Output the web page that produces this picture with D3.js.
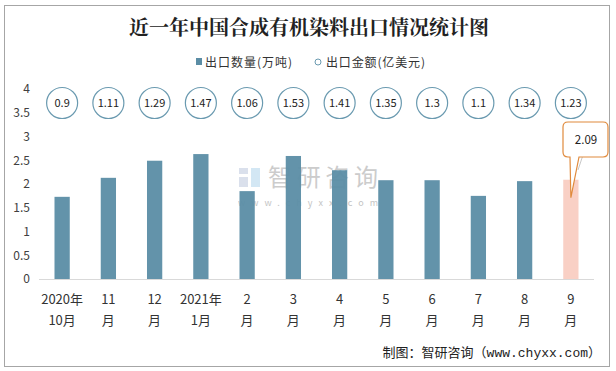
<!DOCTYPE html>
<html><head><meta charset="utf-8">
<script src="https://cdn.jsdelivr.net/npm/d3@7"></script>
<style>body{margin:0;background:#fff;}svg{display:block;}</style>
</head><body>
<svg id="c" width="616" height="371"></svg>
<script>
const categories = [["2020年","10月"],["11","月"],["12","月"],["2021年","1月"],["2","月"],["3","月"],["4","月"],["5","月"],["6","月"],["7","月"],["8","月"],["9","月"]];
const quantity = [1.73, 2.13, 2.49, 2.63, 1.85, 2.59, 2.29, 2.08, 2.08, 1.75, 2.06, 2.09];
const amount = [0.9, 1.11, 1.29, 1.47, 1.06, 1.53, 1.41, 1.35, 1.3, 1.1, 1.34, 1.23];
const yTicks = [0, 0.5, 1, 1.5, 2, 2.5, 3, 3.5, 4];
const title = "近一年中国合成有机染料出口情况统计图";
const legendLabels = ["出口数量(万吨)", "出口金额(亿美元)"];
const source = "制图：智研咨询（www.chyxx.com）";

const svg = d3.select("#c");
const font = "'Noto Sans CJK SC', 'Liberation Sans', sans-serif";
const barColor = "#5b8da5", hiColor = "#f9cdc2", circColor = "#6a9ab0";

svg.append("rect").attr("x",4.5).attr("y",5.5).attr("width",605).attr("height",361)
  .attr("fill","#fff").attr("stroke","#a6a6a6").attr("stroke-width",1);

svg.append("text").attr("x",309).attr("y",35).attr("text-anchor","middle")
  .attr("font-family","'Noto Serif CJK SC','Noto Sans CJK SC',serif").attr("font-weight","bold")
  .attr("font-size",20).attr("fill","#222").text(title);

const x = d3.scaleBand().domain(d3.range(categories.length)).range([39, 594]).paddingInner(0.67).paddingOuter(0.335);
const y = d3.scaleLinear().domain([0, 4]).range([279, 89]);

// legend
const lg = svg.append("g").attr("font-family",font).attr("font-size",12).attr("fill","#333");
lg.append("rect").attr("x",196).attr("y",58).attr("width",6).attr("height",7).attr("fill",barColor);
lg.append("text").attr("x",205).attr("y",66.5).attr("textLength",87).text(legendLabels[0]);
lg.append("circle").attr("cx",318).attr("cy",62).attr("r",3).attr("fill","none").attr("stroke",circColor);
lg.append("text").attr("x",326).attr("y",66.5).attr("textLength",99).text(legendLabels[1]);

// y axis
const ya = svg.append("g").attr("transform","translate(30,0)")
  .call(d3.axisLeft(y).tickValues(yTicks).tickSize(0).tickPadding(0).tickFormat(d3.format("~g")));
ya.select(".domain").remove();
ya.selectAll("text").attr("font-family",font).attr("font-size",12).attr("fill","#404040");

// watermark
const wm = svg.append("g").attr("opacity",0.5);
wm.append("rect").attr("x",239).attr("y",168).attr("width",9).attr("height",6).attr("fill","#b7c3da");
wm.append("rect").attr("x",239).attr("y",177).attr("width",9).attr("height",10).attr("fill","#b7c3da");
wm.append("rect").attr("x",251).attr("y",168).attr("width",9).attr("height",19).attr("fill","#a9d1ea");
wm.append("text").attr("x",268).attr("y",186).attr("font-family",font).attr("font-size",24).attr("fill","#9a9a9a").attr("textLength",110).text("智研咨询");
wm.append("text").attr("x",238).attr("y",206).attr("font-family",font).attr("font-size",9).attr("fill","#8a8a8a").attr("textLength",140).text("www.chyxx.com");

// bars
svg.append("g").selectAll("rect").data(quantity).join("rect")
  .attr("x",(d,i)=>x(i)).attr("width",x.bandwidth())
  .attr("y",d=>y(d)).attr("height",d=>y(0)-y(d))
  .attr("fill",(d,i)=> i===quantity.length-1 ? hiColor : barColor)
  .attr("fill-opacity",0.95);

// baseline
svg.append("line").attr("x1",39).attr("x2",594).attr("y1",279.5).attr("y2",279.5).attr("stroke","#d9d9d9");

// x labels
const xl = svg.append("g").attr("font-family",font).attr("font-size",13).attr("fill","#333").attr("text-anchor","middle");
categories.forEach((c,i)=>{
  const cx = x(i)+x.bandwidth()/2;
  xl.append("text").attr("x",cx).attr("y",304).text(c[0]);
  xl.append("text").attr("x",cx).attr("y",325).text(c[1]);
});

// amount circles
const cg = svg.append("g");
amount.forEach((v,i)=>{
  const cx = x(i)+x.bandwidth()/2;
  cg.append("circle").attr("cx",cx).attr("cy",103).attr("r",15.5).attr("fill","#fff").attr("stroke",circColor).attr("stroke-width",1.2);
  cg.append("text").attr("x",cx).attr("y",107).attr("text-anchor","middle").attr("font-family",font).attr("font-size",11).attr("fill","#222").text(v);
});

// callout for last bar
const li = quantity.length-1;
const tipX = x(li)+x.bandwidth()/2, tipY = y(quantity[li]) + 18;
const bx0 = 563, bx1 = 608, by0 = 122, by1 = 157, r = 5;
const p = d3.path();
p.moveTo(bx0+r,by0); p.lineTo(bx1-r,by0); p.quadraticCurveTo(bx1,by0,bx1,by0+r);
p.lineTo(bx1,by1-r); p.quadraticCurveTo(bx1,by1,bx1-r,by1);
p.lineTo(579,by1); p.lineTo(tipX,tipY); p.lineTo(570,by1);
p.lineTo(bx0+r,by1); p.quadraticCurveTo(bx0,by1,bx0,by1-r);
p.lineTo(bx0,by0+r); p.quadraticCurveTo(bx0,by0,bx0+r,by0); p.closePath();
svg.append("line").attr("x1",583).attr("y1",155).attr("x2",578).attr("y2",170).attr("stroke","#c8c8c8");
svg.append("path").attr("d",p.toString()).attr("fill","#fff").attr("stroke","#e08a3c").attr("stroke-width",1.2);
svg.append("text").attr("x",586).attr("y",143.5).attr("text-anchor","middle").attr("font-family",font).attr("font-size",11.5).attr("fill","#222").text(quantity[li].toFixed(2));

// source
svg.append("text").attr("x",601).attr("y",357).attr("text-anchor","end")
  .attr("font-family","'Liberation Mono','Noto Sans CJK SC',monospace").attr("font-size",13).attr("fill","#222").text(source);
</script>
</body></html>
